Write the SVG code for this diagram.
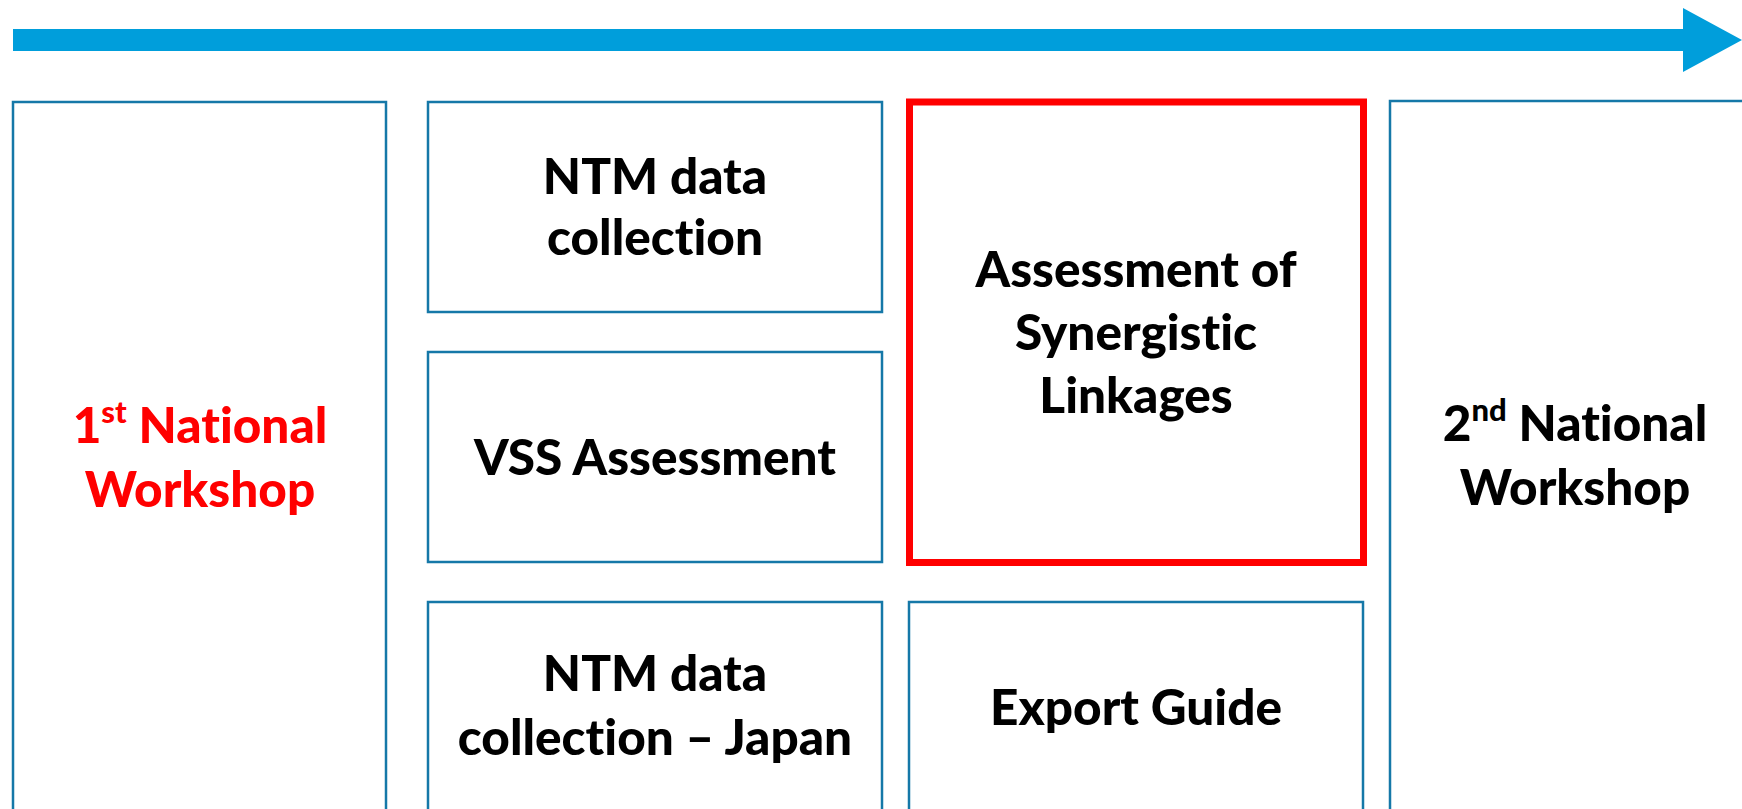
<svg xmlns="http://www.w3.org/2000/svg" width="1742" height="809" viewBox="0 0 1742 809">
<style>
.box{fill:#ffffff;stroke:#1578a8;stroke-width:2.5}
.hl{fill:#ffffff;stroke:#ff0000;stroke-width:7}
.t{font-family:Lato,"Liberation Sans",sans-serif;font-weight:900;font-size:49.5px;fill:#000000;text-anchor:middle;font-variant-ligatures:none;font-feature-settings:"liga" 0}
.red{fill:#ff0000}
.sup{font-size:31px}
</style>
<rect width="1742" height="809" fill="#ffffff"/>
<g id="connectors">
<path id="timeline" d="M13,29 H1683 V8 L1742,40 L1683,72 V51 H13 Z" fill="#009edb"/>
</g>
<g id="ws1">
<rect class="box" x="13" y="102" width="373" height="740"/>
<text class="t red" x="200" y="443">1<tspan class="sup" dy="-20">st</tspan><tspan dy="20"> National</tspan></text>
<text class="t red" x="200" y="507">Workshop</text>
</g>
<g id="ntm">
<rect class="box" x="428" y="102" width="454" height="210"/>
<text class="t" x="655" y="194">NTM data</text>
<text class="t" x="655" y="255">collection</text>
</g>
<g id="vss">
<rect class="box" x="428" y="352" width="454" height="210"/>
<text class="t" x="655" y="475">VSS Assessment</text>
</g>
<g id="ntmjp">
<rect class="box" x="428" y="602" width="454" height="240"/>
<text class="t" x="655" y="691">NTM data</text>
<text class="t" x="655" y="755">collection – Japan</text>
</g>
<g id="synergy">
<rect class="hl" x="909.5" y="102" width="454" height="460.5"/>
<text class="t" x="1136" y="287">Assessment of</text>
<text class="t" x="1136" y="350">Synergistic</text>
<text class="t" x="1136" y="413">Linkages</text>
</g>
<g id="export">
<rect class="box" x="909" y="602" width="454" height="240"/>
<text class="t" x="1136" y="725">Export Guide</text>
</g>
<g id="ws2">
<rect class="box" x="1390" y="101" width="400" height="740"/>
<text class="t" x="1575" y="441">2<tspan class="sup" dy="-20">nd</tspan><tspan dy="20"> National</tspan></text>
<text class="t" x="1575" y="505">Workshop</text>
</g>
</svg>
